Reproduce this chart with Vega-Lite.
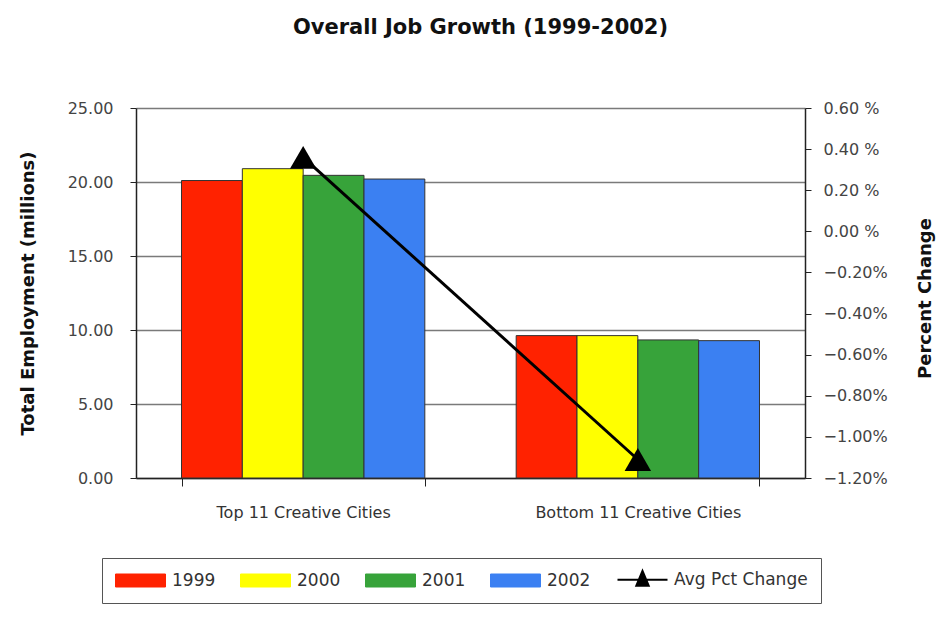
{
  "$schema": "https://vega.github.io/schema/vega-lite/v6.json",
  "width": 669,
  "height": 370,
  "autosize": {"type": "none"},
  "padding": {"left": 136, "top": 108, "right": 145, "bottom": 145},
  "background": "white",
  "config": {
    "view": {"stroke": null},
    "font": "DejaVu Sans",
    "axis": {"labelFont": "DejaVu Sans", "titleFont": "DejaVu Sans"}
  },
  "title": {
    "text": "Overall Job Growth (1999-2002)",
    "font": "DejaVu Sans",
    "fontSize": 21,
    "fontWeight": "bold",
    "color": "#111",
    "anchor": "middle",
    "frame": "group",
    "offset": 62,
    "dx": 10
  },
  "datasets": {
    "bars": [
      {"group": "Top 11 Creative Cities", "series": "1999", "employment": 20.1},
      {"group": "Top 11 Creative Cities", "series": "2000", "employment": 20.9},
      {"group": "Top 11 Creative Cities", "series": "2001", "employment": 20.45},
      {"group": "Top 11 Creative Cities", "series": "2002", "employment": 20.2},
      {"group": "Bottom 11 Creative Cities", "series": "1999", "employment": 9.62},
      {"group": "Bottom 11 Creative Cities", "series": "2000", "employment": 9.62},
      {"group": "Bottom 11 Creative Cities", "series": "2001", "employment": 9.33},
      {"group": "Bottom 11 Creative Cities", "series": "2002", "employment": 9.28}
    ],
    "pct": [
      {"group": "Top 11 Creative Cities", "series": "Avg Pct Change", "pct": 0.36},
      {"group": "Bottom 11 Creative Cities", "series": "Avg Pct Change", "pct": -1.11}
    ]
  },
  "layer": [
    {
      "data": {"name": "bars"},
      "mark": {"type": "bar", "stroke": "#333", "strokeWidth": 1},
      "encoding": {
        "x": {
          "field": "group", "type": "nominal",
          "sort": ["Top 11 Creative Cities", "Bottom 11 Creative Cities"],
          "scale": {"paddingInner": 0.273, "paddingOuter": 0.136},
          "axis": {
            "title": null, "labelAngle": 0, "labelFontSize": 16, "labelColor": "#333", "labelLimit": 500,
            "tickBand": "extent", "tickSize": 8, "tickColor": "#222", "domainColor": "#222",
            "domainWidth": 1.5, "labelPadding": 18, "grid": false
          }
        },
        "xOffset": {
          "field": "series", "type": "nominal",
          "scale": {"domain": ["1999", "2000", "2001", "2002"], "paddingInner": 0, "paddingOuter": 0}
        },
        "y": {
          "field": "employment", "type": "quantitative",
          "scale": {"domain": [0, 25], "nice": false},
          "axis": {
            "title": "Total Employment (millions)",
            "titleFontSize": 18, "titleFontWeight": "bold", "titleColor": "#111",
            "titleX": -108, "titleY": 185, "titleAngle": -90, "titleBaseline": "middle", "titleAlign": "center",
            "values": [0, 5, 10, 15, 20, 25], "format": ".2f",
            "labelFontSize": 16, "labelColor": "#444", "labelPadding": 17,
            "tickSize": 6, "tickColor": "#222", "domainColor": "#222", "domainWidth": 1.5,
            "grid": true, "gridColor": "#7a7a7a", "gridWidth": 1.5
          }
        },
        "color": {
          "field": "series", "type": "nominal",
          "scale": {
            "domain": ["1999", "2000", "2001", "2002", "Avg Pct Change"],
            "range": ["#ff2200", "#ffff00", "#37a33a", "#3b80f2", "#000000"]
          },
          "legend": {
            "title": null,
            "orient": "none",
            "legendX": -34,
            "legendY": 450,
            "direction": "horizontal",
            "columns": 5,
            "strokeColor": "#555",
            "fillColor": "white",
            "padding": 13,
            "labelFont": "DejaVu Sans",
            "labelFontSize": 17,
            "labelColor": "#333",
            "labelOffset": 40,
            "columnPadding": 22,
            "symbolSize": 256,
            "symbolOpacity": 1,
            "symbolType": {"expr": "datum.value === 'Avg Pct Change' ? 'M-1,0H5.25M2.125,-1.1L2.9,0.75L1.35,0.75Z' : 'M-1,-0.8125H5.25V0.8125H-1Z'"},
            "symbolStrokeColor": {"expr": "datum.value === 'Avg Pct Change' ? 'black' : '#444'"},
            "symbolStrokeWidth": {"expr": "datum.value === 'Avg Pct Change' ? 2 : 1"}
          }
        }
      }
    },
    {
      "data": {"name": "pct"},
      "encoding": {
        "x": {"field": "group", "type": "nominal", "sort": ["Top 11 Creative Cities", "Bottom 11 Creative Cities"]},
        "y": {
          "field": "pct", "type": "quantitative",
          "scale": {"domain": [-1.2, 0.6], "nice": false},
          "axis": {
            "orient": "right",
            "title": "Percent Change",
            "titleFontSize": 18, "titleFontWeight": "bold", "titleColor": "#111",
            "titleX": 120, "titleY": 190, "titleAngle": -90, "titleBaseline": "middle", "titleAlign": "center",
            "values": [-1.2, -1.0, -0.8, -0.6, -0.4, -0.2, 0, 0.2, 0.4, 0.6],
            "labelExpr": "datum.value >= 0 ? format(datum.value, '.2f') + ' %' : format(datum.value, '.2f') + '%'",
            "labelFontSize": 16, "labelColor": "#444", "labelPadding": 12,
            "tickSize": 6, "tickColor": "#222", "domainColor": "#222", "domainWidth": 1.5,
            "grid": false
          }
        }
      },
      "layer": [
        {
          "mark": {"type": "line", "strokeWidth": 3},
          "encoding": {"color": {"field": "series", "type": "nominal"}}
        },
        {
          "mark": {"type": "point", "shape": "triangle-up", "size": 700, "filled": true, "color": "black", "opacity": 1},
          "encoding": {}
        }
      ]
    }
  ],
  "resolve": {"scale": {"y": "independent"}, "axis": {"y": "independent"}}
}
